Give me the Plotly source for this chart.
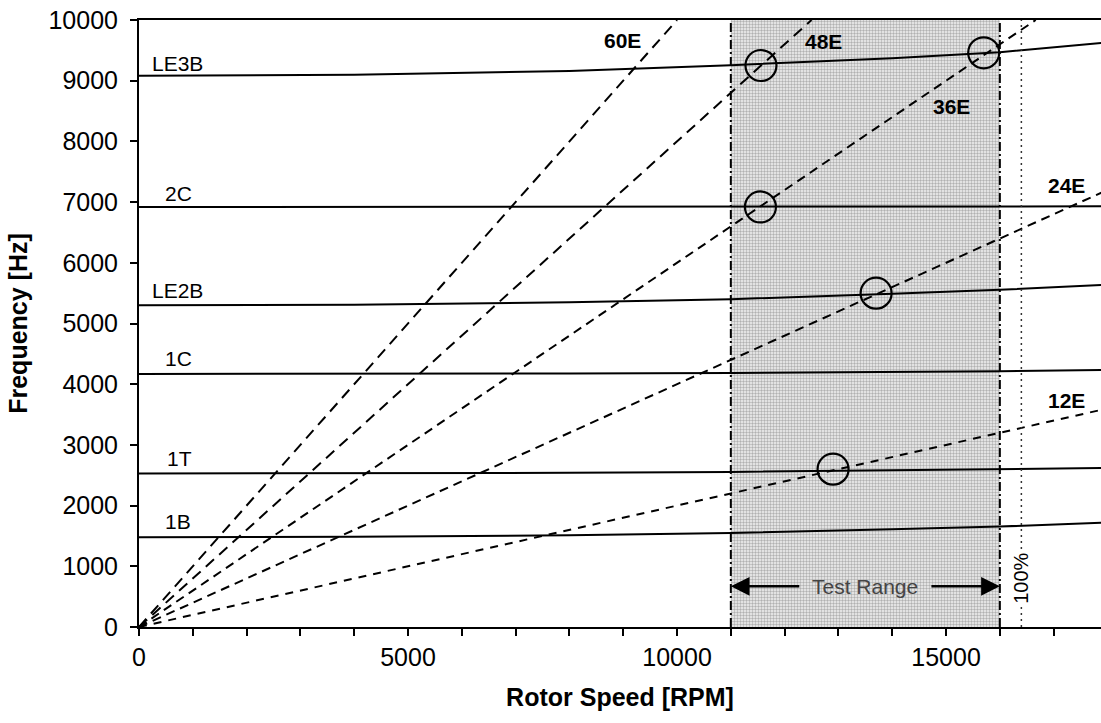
import plotly.graph_objects as go

# ---------------- data ----------------
rpm_pts = [0, 4000, 8000, 11000, 14000, 16000, 18000]
mode_names = ["LE3B", "2C", "LE2B", "1C", "1T", "1B"]
f_LE3B = [9080, 9100, 9160, 9255, 9370, 9470, 9630]
f_2C = [6920, 6920, 6920, 6920, 6922, 6925, 6930]
f_LE2B = [5300, 5310, 5350, 5400, 5490, 5555, 5640]
f_1C = [4170, 4170, 4175, 4185, 4200, 4215, 4235]
f_1T = [2530, 2532, 2540, 2555, 2580, 2600, 2620]
f_1B = [1480, 1485, 1510, 1550, 1610, 1655, 1720]

eo_names = ["60E", "48E", "36E", "24E", "12E"]
eo_rpm = {"60E": [0, 10000], "48E": [0, 12500], "36E": [0, 16667],
          "24E": [0, 18000], "12E": [0, 18000]}
eo_hz = {"60E": [0, 10000], "48E": [0, 10000], "36E": [0, 10000],
         "24E": [0, 7200], "12E": [0, 3600]}

cross_rpm = [11560, 15700, 11550, 13700, 12900]
cross_hz = [9250, 9460, 6920, 5500, 2600]

test_range = [11000, 16000]
speed_100 = 16400

# ---------------- figure ----------------
fig = go.Figure()

fig.add_trace(go.Scatter(
    x=[test_range[0], test_range[1], test_range[1], test_range[0], test_range[0]],
    y=[0, 0, 10000, 10000, 0], mode="lines", line=dict(width=0),
    fill="toself", fillcolor="rgba(0,0,0,0)",
    fillpattern=dict(shape=".", fgcolor="#707070", bgcolor="#f2f2f2", size=3, solidity=0.5),
    hoverinfo="skip", showlegend=False))

modes = [f_LE3B, f_2C, f_LE2B, f_1C, f_1T, f_1B]
for name, f in zip(mode_names, modes):
    fig.add_trace(go.Scatter(x=rpm_pts, y=f, mode="lines", name=name,
                             line=dict(color="black", width=2),
                             showlegend=False))

dashes = {"60E": "11px,7px", "48E": "11px,7px", "36E": "9px,6px",
          "24E": "9px,6px", "12E": "8px,7px"}
for name in eo_names:
    fig.add_trace(go.Scatter(x=eo_rpm[name], y=eo_hz[name], mode="lines", name=name,
                             line=dict(color="black", width=2, dash=dashes[name]),
                             showlegend=False))

for xv in test_range:
    fig.add_trace(go.Scatter(x=[xv, xv], y=[0, 10000], mode="lines",
                             line=dict(color="black", width=2, dash="9px,3px,2px,3px"),
                             showlegend=False))
fig.add_trace(go.Scatter(x=[speed_100, speed_100], y=[0, 10000], mode="lines",
                         line=dict(color="#333333", width=1.5, dash="2px,4px"),
                         showlegend=False))

fig.add_trace(go.Scatter(x=cross_rpm, y=cross_hz, mode="markers",
                         marker=dict(symbol="circle-open", size=31,
                                     line=dict(color="black", width=2.2), color="black"),
                         showlegend=False))

# ---------------- annotations ----------------
FAM = "Liberation Sans, Arial, sans-serif"
lbl_font = dict(family=FAM, size=21, color="black")
mode_lbl = [("LE3B", 200, 9290), ("2C", 446, 7150), ("LE2B", 200, 5540),
            ("1C", 446, 4430), ("1T", 480, 2770), ("1B", 446, 1735)]
for t, x, y in mode_lbl:
    fig.add_annotation(x=x, y=y, text=t, showarrow=False, xanchor="left",
                       yanchor="middle", font=lbl_font)
eo_lbl = [("60E", 8980, 9670), ("48E", 12730, 9640), ("36E", 15100, 8570),
          ("24E", 17240, 7270), ("12E", 17240, 3730)]
for t, x, y in eo_lbl:
    fig.add_annotation(x=x, y=y, text="<b>" + t + "</b>", showarrow=False,
                       xanchor="center", yanchor="middle", font=lbl_font)

fig.add_annotation(x=13500, y=670, text="Test Range", showarrow=False,
                   font=dict(family=FAM, size=21, color="#444444"))
fig.add_annotation(x=test_range[0], y=670, ax=12300, ay=670, axref="x", ayref="y",
                   text="", showarrow=True, arrowhead=2, arrowsize=1.5, arrowwidth=2.5,
                   arrowcolor="black")
fig.add_annotation(x=test_range[1], y=670, ax=14700, ay=670, axref="x", ayref="y",
                   text="", showarrow=True, arrowhead=2, arrowsize=1.5, arrowwidth=2.5,
                   arrowcolor="black")
fig.add_annotation(x=speed_100, y=800, text="100%", showarrow=False, textangle=-90,
                   bgcolor="white", font=dict(family=FAM, size=20, color="black"))

tick_font = dict(family=FAM, size=25, color="black")
title_font = dict(family=FAM, size=25, color="black")

fig.update_layout(
    width=1101, height=723,
    margin=dict(l=139, r=0, t=20, b=96),
    paper_bgcolor="white", plot_bgcolor="white",
    showlegend=False,
    xaxis=dict(range=[0, 17880], tickvals=[0, 5000, 10000, 15000],
               ticktext=["0", "5000", "10000", "15000"],
               ticks="outside", ticklen=7, tickwidth=1.5, tickcolor="black",
               minor=dict(dtick=1000, ticks="outside", ticklen=7, tickwidth=1.5, tickcolor="black"),
               showline=True, linecolor="black", linewidth=2, mirror=True,
               showgrid=False, zeroline=False, tickfont=tick_font,
               title=dict(text="<b>Rotor Speed [RPM]</b>", font=title_font, standoff=18)),
    yaxis=dict(range=[0, 10000], dtick=1000, tickformat="d", ticks="outside", ticklen=7,
               tickwidth=1.5, tickcolor="black", showline=True, linecolor="black", linewidth=2,
               showgrid=False, zeroline=False, tickfont=tick_font, ticklabelstandoff=7,
               title=dict(text="<b>Frequency [Hz]</b>", font=title_font, standoff=14)),
)

fig.write_html("out.html")
